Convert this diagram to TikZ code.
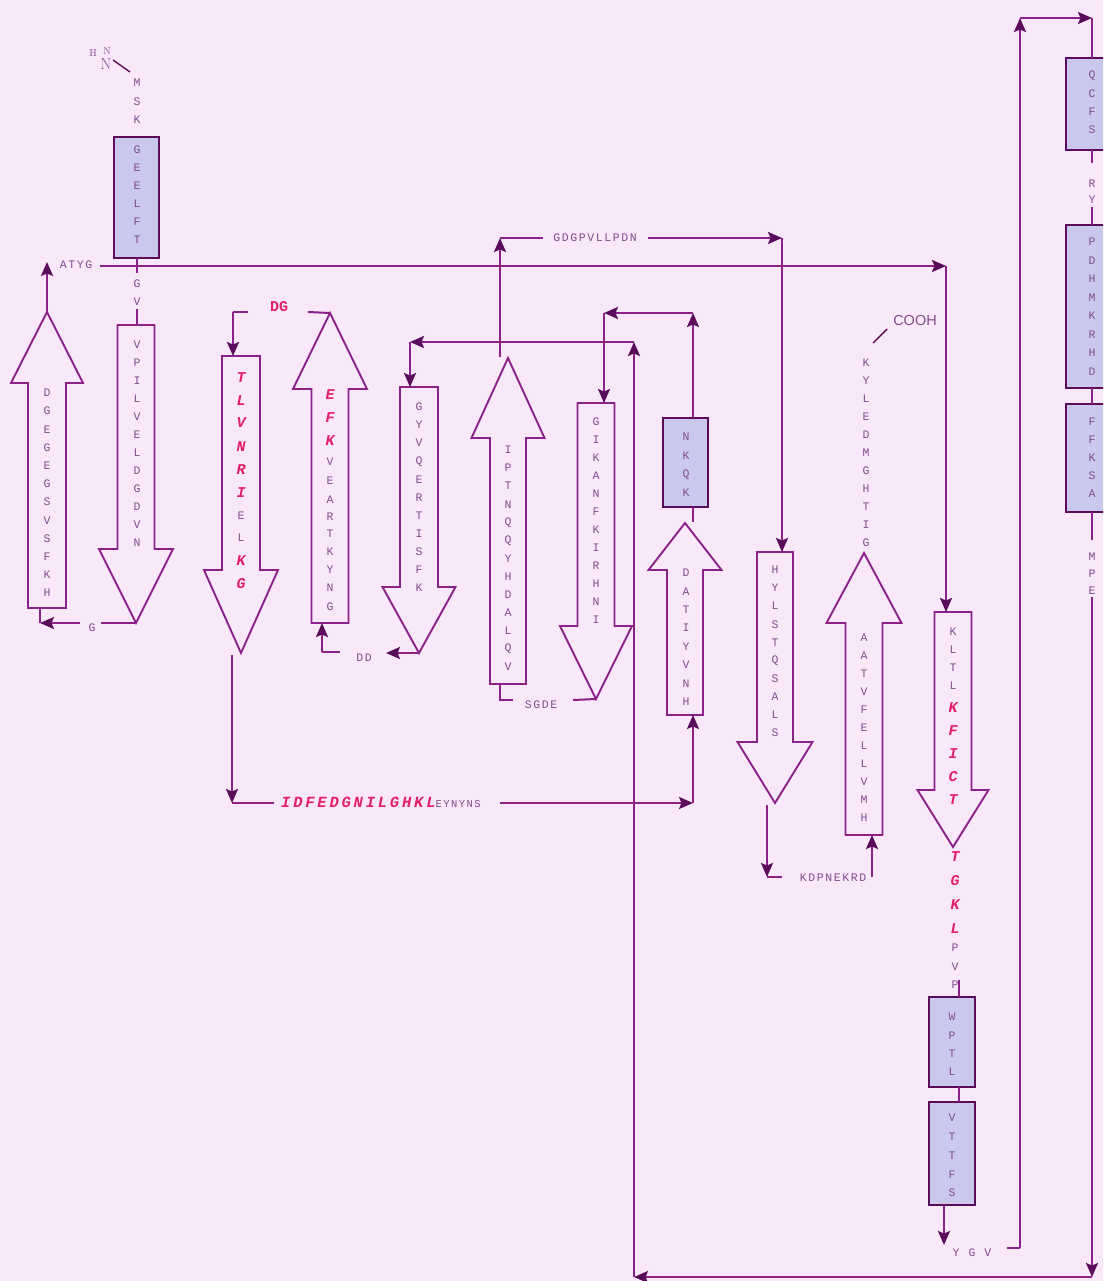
\documentclass[tikz,border=0pt]{standalone}
\usepackage{fontspec}
\usetikzlibrary{arrows.meta}
\newfontfamily\aafont{Liberation Mono}
\newfontfamily\aaspfont[LetterSpace=14]{Liberation Mono}
\newfontfamily\redspfont[LetterSpace=18]{Liberation Mono}
\newfontfamily\coohfont{Liberation Sans}
\definecolor{bg}{RGB}{249,232,249}
\definecolor{ln}{RGB}{138,34,138}
\definecolor{dk}{RGB}{90,12,90}
\definecolor{tx}{RGB}{128,78,140}
\definecolor{rd}{RGB}{226,32,105}
\definecolor{bx}{RGB}{202,200,236}
\tikzset{
  conn/.style={draw=ln, line width=2pt},
  arr/.style={conn, -{Stealth[length=14pt,width=12pt,inset=2.5pt,color=dk]}},
  strand/.style={draw=ln, line width=1.9pt, line join=miter},
  hbox/.style={draw=dk, line width=1.8pt, fill=bx},
  aa/.style={text=tx, font=\aafont\fontsize{11.5}{13}\selectfont, inner sep=0pt},
  aar/.style={text=rd, font=\aafont\bfseries\itshape\fontsize{15}{16}\selectfont, inner sep=0pt},
  lab/.style={text=tx, font=\aaspfont\fontsize{11.5}{13}\selectfont, inner sep=0pt},
  redup/.style={text=rd, font=\aafont\bfseries\fontsize{15}{16}\selectfont, inner sep=0pt},
  thin/.style={draw=dk, line width=1.4pt},
}
\newcommand\upstrand[7]{%
  \draw[strand] (#2,#3) -- (#2+#6,#4) -- (#2+#7,#4) -- (#2+#7,#5) -- (#2-#7,#5) -- (#2-#7,#4) -- (#2-#6,#4) -- cycle;
  \coordinate (#1-tip) at (#2,#3); \coordinate (#1-end) at (#2,#5);}
\newcommand\downstrand[7]{%
  \draw[strand] (#2-#7,#3) -- (#2+#7,#3) -- (#2+#7,#4) -- (#2+#6,#4) -- (#2,#5) -- (#2-#6,#4) -- (#2-#7,#4) -- cycle;
  \coordinate (#1-top) at (#2,#3); \coordinate (#1-tip) at (#2,#5);}
\newcommand\vseq[5]{\foreach \l [count=\i from 0] in {#5} \node[aa] (#1-\i) at (#2,{#3+\i*#4}) {\l};}
\newcommand\mseq[3]{\foreach \l/\s/\yy [count=\i from 0] in {#3} \node[\s] (#1-\i) at (#2,\yy) {\l};}
\begin{document}
\begin{tikzpicture}[x=1pt,y=-1pt]
\fill[bg] (0,0) rectangle (1103,1281);
\useasboundingbox (0,0) rectangle (1103,1281);
\clip (0,0) rectangle (1103,1281);

% ---------- strands ----------
\upstrand{s1}{47}{312}{383}{608}{36}{19}
\downstrand{s2}{136}{325}{549}{623}{37}{18.5}
\downstrand{s3}{241}{356}{570}{653}{37}{19}
\upstrand{s4}{330}{313}{389}{623}{37}{18.5}
\downstrand{s5}{419}{387}{587}{653}{36.5}{19}
\upstrand{s6}{508}{358}{438}{684}{36.5}{18}
\downstrand{s7}{596}{403}{626}{699}{36}{18.5}
\upstrand{s8}{685}{523}{570}{715}{36.5}{18}
\downstrand{s9}{775}{552}{742}{803}{37.5}{18}
\upstrand{s10}{864}{553}{623}{835}{37.5}{18.5}
\downstrand{s11}{953}{612}{790}{847}{35.5}{18.5}

% ---------- helix boxes ----------
\draw[hbox] (114,137) rectangle (159,258);
\draw[hbox] (663,418) rectangle (708,507);
\draw[hbox] (929,997) rectangle (975,1087);
\draw[hbox] (929,1102) rectangle (975,1205);
\draw[hbox] (1066,58) rectangle (1115,150);
\draw[hbox] (1066,225) rectangle (1115,388);
\draw[hbox] (1066,404) rectangle (1115,512);

% ---------- connectors ----------
% N-terminus
\draw[conn] (137,258) -- (137,273);
\draw[conn] (137,309) -- (137,325);
\draw[thin] (113,60) -- (130,72);
% strand 1 top / ATYG line
\draw[arr] (s1-tip) -- (47,262);
\draw[arr] (100,266) -- (946,266);
\draw[arr] (946,266) -- (946,612);
% strand 2 -> strand 1
\draw[conn] (s2-tip) -- (101,623);
\draw[arr] (80,623) -- (40,623);
\draw[conn] (40,623) -- (40,608);
% DG loop
\draw[conn] (248,312) -- (233,312);
\draw[arr] (233,312) -- (233,356);
\draw[conn] (308,312) -- (s4-tip);
% strand 3 tip -> bottom loop -> strand 8
\draw[arr] (232,655) -- (232,803);
\draw[conn] (232,803) -- (274,803);
\draw[arr] (500,803) -- (693,803);
\draw[arr] (693,803) -- (693,715);
% DD loop
\draw[arr] (322,652) -- (322,623);
\draw[conn] (322,652) -- (340,652);
\draw[arr] (s5-tip) -- (386,653);
% long bottom route into strand 5
\draw[arr] (1092,597) -- (1092,1277);
\draw[arr] (1092,1277) -- (634,1277);
\draw[arr] (634,1277) -- (634,342);
\draw[arr] (634,342) -- (410,342);
\draw[arr] (410,342) -- (410,387);
% strand 6 top -> GDGPVLLPDN -> strand 9
\draw[arr] (500,357) -- (500,238);
\draw[conn] (500,238) -- (543,238);
\draw[arr] (648,238) -- (782,238);
\draw[arr] (782,238) -- (782,552);
% SGDE loop
\draw[conn] (500,684) -- (500,700) -- (513,700);
\draw[conn] (573,700) -- (s7-tip);
% NKQK -> strand 7
\draw[arr] (693,418) -- (693,313);
\draw[arr] (693,313) -- (604,313);
\draw[arr] (604,313) -- (604,403);
\draw[conn] (693,507) -- (693,522);
% KDPNEKRD loop
\draw[arr] (767,805) -- (767,877);
\draw[conn] (767,877) -- (782,877);
\draw[arr] (872,877) -- (872,835);
% COOH
\draw[thin] (873,343) -- (887,329);
% strand 11 below
\draw[conn] (959,980) -- (959,997);
\draw[conn] (959,1087) -- (959,1102);
\draw[arr] (944,1205) -- (944,1245);
\draw[conn] (1007,1248) -- (1020,1248);
\draw[arr] (1020,1248) -- (1020,18);
\draw[arr] (1020,18) -- (1092,18);
\draw[conn] (1092,18) -- (1092,58);
\draw[conn] (1092,150) -- (1092,163);
\draw[conn] (1092,207) -- (1092,225);
\draw[conn] (1092,388) -- (1092,404);
\draw[conn] (1092,512) -- (1092,540);

% ---------- residues ----------
\node[text=tx, font=\fontsize{10}{11}\selectfont, inner sep=0pt] (hh) at (93,53) {H};
\node[text=tx, font=\fontsize{10}{11}\selectfont, inner sep=0pt] (hn) at (107,51) {N};
\node[text=tx, font=\fontsize{16}{17}\selectfont, inner sep=0pt] (nn) at (106,64) {N};
\vseq{nt}{137}{83}{18.5}{M,S,K}
\vseq{b1}{137}{150}{18}{G,E,E,L,F,T}
\vseq{gv}{137}{284}{18}{G,V}
\vseq{r1}{47}{393}{18.2}{D,G,E,G,E,G,S,V,S,F,K,H}
\vseq{r2}{137}{345}{18}{V,P,I,L,V,E,L,D,G,D,V,N}
\mseq{r3}{241}{T/aar/378,L/aar/401,V/aar/423,N/aar/447,R/aar/470,I/aar/493,E/aa/516,L/aa/538,K/aar/561,G/aar/584}
\mseq{r4}{330}{E/aar/395,F/aar/418,K/aar/441,V/aa/462,E/aa/481,A/aa/500,R/aa/517,T/aa/534,K/aa/552,Y/aa/570,N/aa/588,G/aa/607}
\vseq{r5}{419}{407}{18.1}{G,Y,V,Q,E,R,T,I,S,F,K}
\vseq{r6}{508}{450}{18.1}{I,P,T,N,Q,Q,Y,H,D,A,L,Q,V}
\vseq{r7}{596}{422}{18}{G,I,K,A,N,F,K,I,R,H,N,I}
\vseq{nk}{686}{437}{18.7}{N,K,Q,K}
\vseq{r8}{686}{573}{18.4}{D,A,T,I,Y,V,N,H}
\vseq{r9}{775}{570}{18.1}{H,Y,L,S,T,Q,S,A,L,S}
\vseq{r10}{864}{638}{18}{A,A,T,V,F,E,L,L,V,M,H}
\vseq{ct}{866}{363}{18}{K,Y,L,E,D,M,G,H,T,I,G}
\mseq{r11}{953}{K/aa/632,L/aa/650,T/aa/668,L/aa/686,K/aar/708,F/aar/731,I/aar/754,C/aar/777,T/aar/800}
\mseq{l11}{955}{T/aar/857,G/aar/881,K/aar/905,L/aar/929,P/aa/948,V/aa/967,P/aa/985}
\vseq{h3}{952}{1017}{18.3}{W,P,T,L}
\vseq{h4}{952}{1118}{18.75}{V,T,T,F,S}
\vseq{h5}{1092}{76}{18}{Q,C,F,S}
\vseq{ry}{1092}{184}{16}{R,Y}
\vseq{h6}{1092}{242}{18.5}{P,D,H,M,K,R,H,D}
\vseq{h7}{1092}{422}{18}{F,F,K,S,A}
\vseq{mpe}{1092}{557}{17}{M,P,E}

% ---------- loop labels ----------
\node[lab] (atyg) at (76,265) {ATYG};
\node[lab] (g1) at (92,628) {G};
\node[redup] (dg) at (279,307) {DG};
\node[lab] (dd) at (364,658) {DD};
\node[lab] (gdg) at (595,238) {GDGPVLLPDN};
\node[lab] (sgde) at (541,705) {SGDE};
\node[anchor=base west, inner sep=0pt] (idf) at (281,807)
  {{\color{rd}\redspfont\bfseries\itshape\fontsize{15.5}{16}\selectfont IDFEDGNILGHKL}{\color{tx}\aaspfont\fontsize{10.5}{12}\selectfont EYNYNS}};
\node[lab] (kdp) at (833,878) {KDPNEKRD};
\node[lab] (ygv) at (972,1253) {Y\hspace{9pt}G\hspace{9pt}V};
\node[text=tx, font=\coohfont\fontsize{14.5}{16}\selectfont, inner sep=0pt] (cooh) at (915,321) {COOH};
\end{tikzpicture}
\end{document}
